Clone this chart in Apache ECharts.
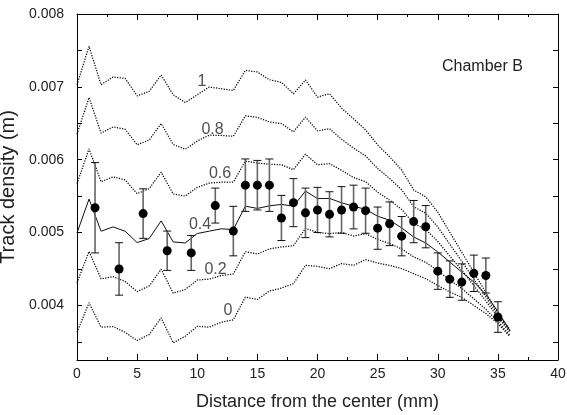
<!DOCTYPE html>
<html>
<head>
<meta charset="utf-8">
<script src="https://cdn.jsdelivr.net/npm/echarts@6/dist/echarts.min.js"></script>
<style>
html,body{margin:0;padding:0;background:#fff;}
#chart{width:567px;height:415px;}
</style>
</head>
<body>
<div id="chart"></div>
<script>
// ---- data ----
const xCurve = [0,1,2,3,4,5,6,7,8,9,10,11,12,13,14,15,16,17,18,19,20,21,22,23,24,25,26,27,28,29,30,31,32,33,34,35,36];
const curve0  = [0.003631,0.004036,0.003700,0.003709,0.003631,0.003517,0.003599,0.003829,0.003485,0.003576,0.003713,0.003700,0.003769,0.003802,0.004113,0.004081,0.004196,0.004237,0.004298,0.004550,0.004536,0.004504,0.004573,0.004550,0.004628,0.004581,0.004550,0.004504,0.004435,0.004366,0.004274,0.004185,0.004109,0.003999,0.003888,0.003751,0.003572];
const curve02 = [0.004310,0.004740,0.004365,0.004394,0.004328,0.004189,0.004267,0.004496,0.004167,0.004218,0.004348,0.004360,0.004409,0.004431,0.004736,0.004705,0.004775,0.004802,0.004819,0.005058,0.005000,0.004985,0.005000,0.004952,0.004985,0.004905,0.004848,0.004775,0.004665,0.004591,0.004475,0.004348,0.004233,0.004090,0.003946,0.003778,0.003591];
const curve04 = [0.004994,0.005459,0.005018,0.005077,0.005018,0.004862,0.004917,0.005160,0.004871,0.004857,0.004986,0.005019,0.005051,0.005041,0.005362,0.005331,0.005366,0.005386,0.005362,0.005569,0.005466,0.005468,0.005408,0.005362,0.005317,0.005224,0.005169,0.005063,0.004939,0.004857,0.004733,0.004595,0.004457,0.004320,0.004150,0.003916,0.003654];
const curve06 = [0.005669,0.006149,0.005697,0.005764,0.005722,0.005533,0.005602,0.005829,0.005529,0.005501,0.005620,0.005678,0.005691,0.005691,0.005981,0.005954,0.005937,0.005931,0.005862,0.006076,0.005930,0.005945,0.005854,0.005756,0.005697,0.005554,0.005445,0.005317,0.005124,0.005041,0.004877,0.004676,0.004481,0.004271,0.004062,0.003833,0.003629];
const curve08 = [0.006350,0.006853,0.006364,0.006450,0.006419,0.006205,0.006269,0.006496,0.006209,0.006143,0.006256,0.006337,0.006333,0.006321,0.006603,0.006580,0.006518,0.006496,0.006383,0.006585,0.006395,0.006424,0.006281,0.006158,0.006052,0.005879,0.005742,0.005587,0.005353,0.005266,0.005078,0.004840,0.004605,0.004362,0.004120,0.003861,0.003649];
const curve1  = [0.007029,0.007556,0.007029,0.007135,0.007116,0.006877,0.006937,0.007163,0.006891,0.006785,0.006891,0.006997,0.006974,0.006950,0.007226,0.007204,0.007098,0.007061,0.006905,0.007094,0.006860,0.006905,0.006708,0.006561,0.006409,0.006202,0.006041,0.005858,0.005583,0.005490,0.005280,0.005004,0.004729,0.004453,0.004178,0.003889,0.003668];
const curveNames = ['0','0.2','0.4','0.6','0.8','1'];

const pointX   = [1.5,3.5,5.5,7.5,9.5,11.5,13,14,15,16,17,18,19,20,21,22,23,24,25,26,27,28,29,30,31,32,33,34,35];
const pointY   = [0.00534,0.00450,0.00526,0.00475,0.00472,0.00537,0.00502,0.00565,0.00565,0.00565,0.00520,0.00541,0.00527,0.00531,0.00525,0.00531,0.00535,0.00530,0.00506,0.00512,0.00495,0.00515,0.00508,0.00447,0.00436,0.00432,0.00444,0.00441,0.00384];
const pointErr = [0.00062,0.00036,0.00034,0.00027,0.00024,0.00024,0.00034,0.00036,0.00034,0.00036,0.00031,0.00033,0.00034,0.00031,0.00031,0.00032,0.00030,0.00031,0.00029,0.00030,0.00027,0.00029,0.00029,0.00025,0.00025,0.00025,0.00025,0.00024,0.00021];

const xTickLabels = [0,5,10,15,20,25,30,35,40];
const yLabelValues = [0.004,0.005,0.006,0.007,0.008];
const yTickValues = [0.0035,0.004,0.0045,0.005,0.0055,0.006,0.0065,0.007,0.0075,0.008];

// ---- chart ----
const FONT = "'Liberation Sans', Arial, sans-serif";
const NARROW = "'Liberation Sans Narrow', 'Arial Narrow', 'Liberation Sans', sans-serif";
const TXT = '#222';
const chart = echarts.init(document.getElementById('chart'), null, {renderer: 'canvas'});

const curves = [curve0, curve02, curve04, curve06, curve08, curve1];
const lineSeries = curves.map((c, i) => ({
  type: 'line',
  name: curveNames[i],
  data: xCurve.map((x, j) => [x, c[j]]),
  showSymbol: false,
  symbol: 'none',
  silent: true,
  z: 2,
  lineStyle: curveNames[i] === '0.4'
    ? {color: '#111', width: 1, type: 'solid'}
    : {color: '#000', width: 1.25, type: [1.2, 1.4]}
}));

// annotation anchors (data coordinates) for the curve labels
const labelAnchors = [[12.56,0.00393],[11.52,0.004487],[10.23,0.005107],[11.9,0.005803],[11.27,0.006416],[10.4,0.00707]];

const baseX = {
  type: 'value', min: 0, max: 40, interval: 5,
  axisLine: {onZero: false, lineStyle: {color: '#000', width: 1}},
  axisTick: {inside: true, length: 6, lineStyle: {color: '#000', width: 1}},
  minorTick: {show: true, splitNumber: 2, length: 3, lineStyle: {color: '#000', width: 1}},
  splitLine: {show: false}, minorSplitLine: {show: false}
};
const baseY = {
  type: 'value', min: 0.00325, max: 0.008,
  axisLine: {show: true, onZero: false, lineStyle: {color: '#000', width: 1}},
  axisTick: {show: true, inside: true, length: 5, customValues: yTickValues, lineStyle: {color: '#000', width: 1}},
  splitLine: {show: false}
};

const option = {
  animation: false,
  backgroundColor: '#fff',
  grid: {left: 77, right: 9, top: 14, bottom: 55, containLabel: false, outerBoundsMode: 'none'},
  title: {
    text: 'Chamber B', left: 437, top: 54,
    textStyle: {fontFamily: FONT, fontSize: 16, fontWeight: 'normal', color: TXT}
  },
  xAxis: [
    Object.assign({}, baseX, {
      position: 'bottom',
      axisLabel: {margin: 7, color: TXT, fontSize: 14, fontFamily: NARROW,
        customValues: xTickLabels, formatter: v => String(v)},
      name: 'Distance from the center (mm)', nameLocation: 'middle', nameGap: 33,
      nameTextStyle: {fontSize: 18, color: TXT, fontFamily: FONT}
    }),
    Object.assign({}, baseX, {position: 'top', axisLabel: {show: false}})
  ],
  yAxis: [
    Object.assign({}, baseY, {
      position: 'left',
      axisLabel: {margin: 13, color: TXT, fontSize: 14, fontFamily: NARROW,
        customValues: yLabelValues, formatter: v => v.toFixed(3)},
      name: 'Track density (m)', nameLocation: 'middle', nameGap: 50,
      nameTextStyle: {fontSize: 20, color: TXT, fontFamily: FONT}
    }),
    Object.assign({}, baseY, {position: 'right', axisLabel: {show: false}})
  ],
  series: lineSeries.concat([
    {
      type: 'scatter',
      name: 'labels',
      silent: true,
      symbolSize: 0,
      z: 5,
      data: labelAnchors.map((p, i) => ({value: p, name: curveNames[i]})),
      label: {show: true, position: 'inside', formatter: '{b}', fontSize: 16, fontFamily: FONT, color: TXT}
    },
    {
      type: 'custom',
      name: 'errors',
      silent: true,
      z: 4,
      encode: {x: 0, y: [1, 2]},
      data: pointX.map((x, i) => [x, pointY[i] - pointErr[i], pointY[i] + pointErr[i]]),
      renderItem: function (params, api) {
        const x = api.value(0);
        const lo = api.coord([x, api.value(1)]);
        const hi = api.coord([x, api.value(2)]);
        const cw = 4;
        return {
          type: 'group',
          children: [
            {type: 'line', shape: {x1: lo[0], y1: lo[1], x2: hi[0], y2: hi[1]}, style: {stroke: '#666', lineWidth: 1.6}},
            {type: 'line', shape: {x1: lo[0] - cw, y1: lo[1], x2: lo[0] + cw, y2: lo[1]}, style: {stroke: '#111', lineWidth: 1}},
            {type: 'line', shape: {x1: hi[0] - cw, y1: hi[1], x2: hi[0] + cw, y2: hi[1]}, style: {stroke: '#111', lineWidth: 1}}
          ]
        };
      }
    },
    {
      type: 'scatter',
      name: 'measured',
      silent: true,
      z: 6,
      symbol: 'circle',
      symbolSize: 9,
      itemStyle: {color: '#000', opacity: 1},
      data: pointX.map((x, i) => [x, pointY[i]])
    }
  ])
};
chart.setOption(option);
</script>
</body>
</html>
